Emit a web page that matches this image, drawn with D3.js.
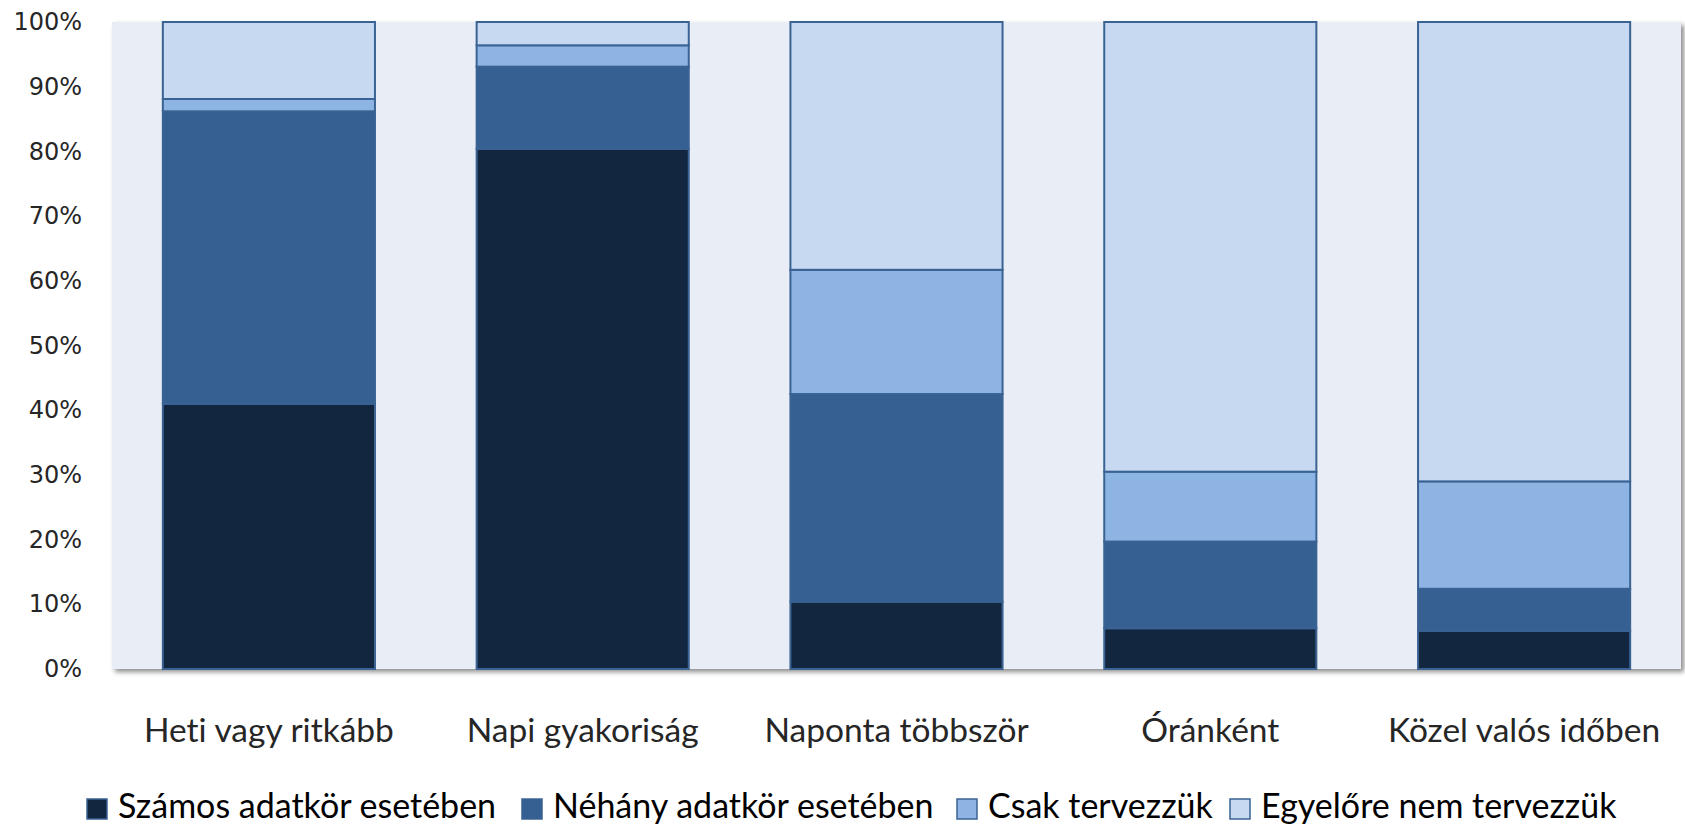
<!DOCTYPE html>
<html>
<head>
<meta charset="utf-8">
<script src="https://cdn.jsdelivr.net/npm/d3@7"></script>
<style>
  body { margin: 0; background: #fff; }
  text { font-variant-ligatures: none; }
</style>
</head>
<body>
<div class="chart"></div>
<script>
// categories and series (shares in %)
var categories = ["Heti vagy ritkább", "Napi gyakoriság", "Naponta többször", "Óránként", "Közel valós időben"];
var seriesNames = ["Számos adatkör esetében", "Néhány adatkör esetében", "Csak tervezzük", "Egyelőre nem tervezzük"];
var szamos = [41.0, 80.4, 10.4, 6.3, 5.9];
var nehany = [45.2, 12.7, 32.1, 13.4, 6.5];
var csak = [1.9, 3.3, 19.2, 10.8, 16.6];
var egyelore = [11.9, 3.6, 38.3, 69.5, 71.0];
var yTicks = [0, 10, 20, 30, 40, 50, 60, 70, 80, 90, 100];

var colors = ["#12263F", "#366092", "#8EB4E3", "#C6D9F1"];

var svgWidth = 1685;
var svgHeight = 831;
var margin = { top: 22, right: 4, bottom: 162, left: 112 };
var width = svgWidth - margin.left - margin.right;
var height = svgHeight - margin.top - margin.bottom;

var svg = d3.select(".chart")
  .append("svg")
  .attr("width", svgWidth)
  .attr("height", svgHeight);

var defs = svg.append("defs");
var shadow = defs.append("filter").attr("id", "shadow")
  .attr("x", "-5%").attr("y", "-5%").attr("width", "110%").attr("height", "110%");
shadow.append("feDropShadow")
  .attr("dx", 3).attr("dy", 3).attr("stdDeviation", 2.5)
  .attr("flood-color", "#000").attr("flood-opacity", 0.45);

var chartGroup = svg.append("g")
  .attr("transform", `translate(${margin.left}, ${margin.top})`);

// plot background
chartGroup.append("rect")
  .attr("width", width)
  .attr("height", height)
  .attr("fill", "#E9EDF5")
  .attr("filter", "url(#shadow)");

var xScale = d3.scaleBand()
  .domain(categories)
  .range([0, width])
  .paddingInner(0.324)
  .paddingOuter(0.162);

var yScale = d3.scaleLinear()
  .domain([0, 100])
  .range([height, 0]);

// stack the series
var rows = categories.map(function(c, i) {
  return { cat: c, s0: szamos[i], s1: nehany[i], s2: csak[i], s3: egyelore[i] };
});
var stack = d3.stack().keys(["s0", "s1", "s2", "s3"]);
var layers = stack(rows);

chartGroup.selectAll("g.layer")
  .data(layers)
  .enter()
  .append("g")
  .attr("class", "layer")
  .attr("fill", (d, i) => colors[i])
  .selectAll("rect")
  .data(d => d)
  .enter()
  .append("rect")
  .attr("x", d => xScale(d.data.cat))
  .attr("y", d => yScale(d[1]))
  .attr("width", xScale.bandwidth())
  .attr("height", d => yScale(d[0]) - yScale(d[1]))
  .attr("stroke", "#3A6394")
  .attr("stroke-width", 2);

// y axis
var leftAxis = d3.axisLeft(yScale)
  .tickValues(yTicks)
  .tickFormat(d => d + "%")
  .tickSize(0)
  .tickPadding(30);

var yAxis = chartGroup.append("g").call(leftAxis);
yAxis.select(".domain").remove();
yAxis.selectAll("text")
  .attr("font-family", "'DejaVu Sans', sans-serif")
  .attr("font-size", "24px")
  .attr("fill", "#262626");

// x axis labels
var bottomAxis = d3.axisBottom(xScale).tickSize(0);
var xAxis = chartGroup.append("g")
  .attr("transform", `translate(0, ${height})`)
  .call(bottomAxis);
xAxis.select(".domain").remove();
xAxis.selectAll("text")
  .attr("y", 73)
  .attr("dy", null)
  .attr("font-family", "Lato, sans-serif")
  .attr("font-size", "33.5px")
  .attr("fill", "#262626");

// legend
var legend = svg.append("g").attr("transform", "translate(0, 818)");
var legendX = [87, 522, 957, 1230];
var items = legend.selectAll("g")
  .data(seriesNames)
  .enter()
  .append("g")
  .attr("transform", (d, i) => `translate(${legendX[i]}, 0)`);
items.append("rect")
  .attr("x", 0).attr("y", -19)
  .attr("width", 20).attr("height", 20)
  .attr("fill", (d, i) => colors[i])
  .attr("stroke", "#3A6394")
  .attr("stroke-width", 1.5);
items.append("text")
  .attr("x", 31)
  .attr("y", 0)
  .attr("font-family", "Lato, sans-serif")
  .attr("font-size", "34px")
  .attr("fill", "#000")
  .text(d => d);
</script>
</body>
</html>
